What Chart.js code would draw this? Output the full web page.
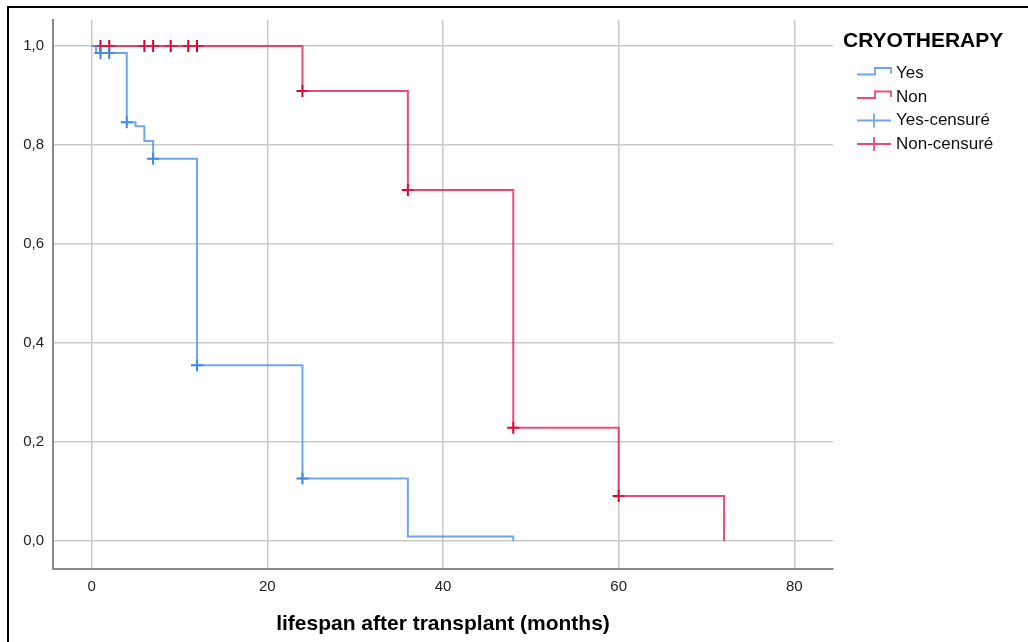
<!DOCTYPE html>
<html>
<head>
<meta charset="utf-8">
<script src="https://cdn.jsdelivr.net/npm/chart.js@4.4.1/dist/chart.umd.min.js"></script>
<style>
  html, body { margin: 0; padding: 0; background: #fff; }
  #wrap { position: absolute; left: 0; top: 0; width: 1028px; height: 642px; }
</style>
</head>
<body>
<div id="wrap"><canvas id="km" width="1028" height="642"></canvas></div>
<script>
// Data definitions

// Kaplan-Meier curve, group "Yes" (months, survival)
const yesTimes = [0, 0.5, 4, 5, 6, 7, 12, 24, 36, 48];
const yesSurv = [1, 0.986, 0.846, 0.838, 0.808, 0.772, 0.355, 0.126, 0.009, 0];
// censored points, group "Yes"
const yesCensTimes = [1, 2, 4, 7, 12, 24];
const yesCensSurv = [0.986, 0.986, 0.846, 0.772, 0.355, 0.126];

// Kaplan-Meier curve, group "Non"
const nonTimes = [0, 24, 36, 48, 60, 72];
const nonSurv = [1, 0.909, 0.709, 0.229, 0.091, 0];
// censored points, group "Non"
const nonCensTimes = [1, 2, 6, 7, 9, 11, 12, 24, 36, 48, 60];
const nonCensSurv = [1, 1, 1, 1, 1, 1, 1, 0.909, 0.709, 0.229, 0.091];

const xTicks = [0, 20, 40, 60, 80];
const yTicks = [0, 0.2, 0.4, 0.6, 0.8, 1.0];
const legendTitle = 'CRYOTHERAPY';
const legendLabels = ['Yes', 'Non', 'Yes-censuré', 'Non-censuré'];
const xTitle = 'lifespan after transplant (months)';

const blueLine = 'rgba(74, 145, 228, 0.8)';
const redLine = 'rgba(226, 30, 80, 0.8)';
const blueMark = '#3a84d8';
const redMark = '#d4002e';

function toPoints(xs, ys) {
  return xs.map((x, i) => ({ x: x, y: ys[i] }));
}

// frame + legend drawn around the chart
const framePlugin = {
  id: 'frame',
  beforeDraw(chart) {
    const ctx = chart.ctx;
    ctx.save();
    ctx.fillStyle = '#fff';
    ctx.fillRect(0, 0, chart.width, chart.height);
    ctx.fillStyle = '#000';
    ctx.fillRect(7, 6, chart.width - 7, 2);
    ctx.fillRect(7, 6, 2, chart.height - 6);
    ctx.restore();
  },
  afterDraw(chart) {
    const ctx = chart.ctx;
    const colors = [blueLine, redLine, blueLine, redLine];
    ctx.save();
    ctx.fillStyle = '#000';
    ctx.font = 'bold 21px "Liberation Sans", Arial, sans-serif';
    ctx.textBaseline = 'middle';
    ctx.fillText(legendTitle, 843, 41);

    ctx.font = '17px "Liberation Sans", Arial, sans-serif';
    legendLabels.forEach((lab, i) => {
      const cy = 73.5 + i * 23.5;
      ctx.strokeStyle = colors[i];
      ctx.lineWidth = 1.8;
      ctx.beginPath();
      if (i < 2) {
        ctx.moveTo(857, cy + 1);
        ctx.lineTo(875, cy + 1);
        ctx.lineTo(875, cy - 5.5);
        ctx.lineTo(891, cy - 5.5);
        ctx.lineTo(891, cy);
      } else {
        ctx.moveTo(857, cy);
        ctx.lineTo(891, cy);
        ctx.moveTo(874, cy - 7);
        ctx.lineTo(874, cy + 7);
      }
      ctx.stroke();
      ctx.fillStyle = '#111';
      ctx.fillText(lab, 896, cy);
    });
    ctx.restore();
  }
};

const tickFont = { family: '"Liberation Sans", Arial, sans-serif', size: 15 };

const chart = new Chart(document.getElementById('km').getContext('2d'), {
  type: 'line',
  data: {
    datasets: [
      {
        label: legendLabels[0],
        data: toPoints(yesTimes, yesSurv),
        borderColor: blueLine,
        borderWidth: 2,
        stepped: 'before',
        pointRadius: 0,
        fill: false
      },
      {
        label: legendLabels[1],
        data: toPoints(nonTimes, nonSurv),
        borderColor: redLine,
        borderWidth: 2,
        stepped: 'before',
        pointRadius: 0,
        fill: false
      },
      {
        label: legendLabels[2],
        data: toPoints(yesCensTimes, yesCensSurv),
        showLine: false,
        pointStyle: 'cross',
        pointRadius: 6,
        pointBorderWidth: 2,
        pointBorderColor: blueMark
      },
      {
        label: legendLabels[3],
        data: toPoints(nonCensTimes, nonCensSurv),
        showLine: false,
        pointStyle: 'cross',
        pointRadius: 6,
        pointBorderWidth: 2,
        pointBorderColor: redMark
      }
    ]
  },
  options: {
    responsive: false,
    animation: false,
    events: [],
    layout: { padding: { top: 20, right: 195, left: 0, bottom: 0 } },
    plugins: {
      legend: { display: false },
      tooltip: { enabled: false }
    },
    scales: {
      x: {
        type: 'linear',
        min: -4.4,
        max: 84.4,
        afterBuildTicks: s => { s.ticks = xTicks.map(v => ({ value: v })); },
        afterFit: s => { s.height = 73; },
        grid: { color: '#c9c9c9', lineWidth: 1.5, drawTicks: false },
        border: { display: true, color: '#8a8a8a', width: 2 },
        ticks: { font: tickFont, color: '#222', padding: 9 },
        title: {
          display: true,
          text: xTitle,
          color: '#000',
          font: { family: '"Liberation Sans", Arial, sans-serif', size: 21, weight: 'bold' },
          padding: { top: 0, bottom: 5 }
        }
      },
      y: {
        type: 'linear',
        min: -0.0566,
        max: 1.0525,
        afterBuildTicks: s => { s.ticks = yTicks.map(v => ({ value: v })); },
        afterFit: s => { s.width = 53; },
        grid: { color: '#c9c9c9', lineWidth: 1.5, drawTicks: false },
        border: { display: true, color: '#8a8a8a', width: 2 },
        ticks: {
          font: tickFont,
          color: '#222',
          padding: 9,
          callback: v => v.toFixed(1).replace('.', ',')
        }
      }
    }
  },
  plugins: [framePlugin]
});
</script>
</body>
</html>
